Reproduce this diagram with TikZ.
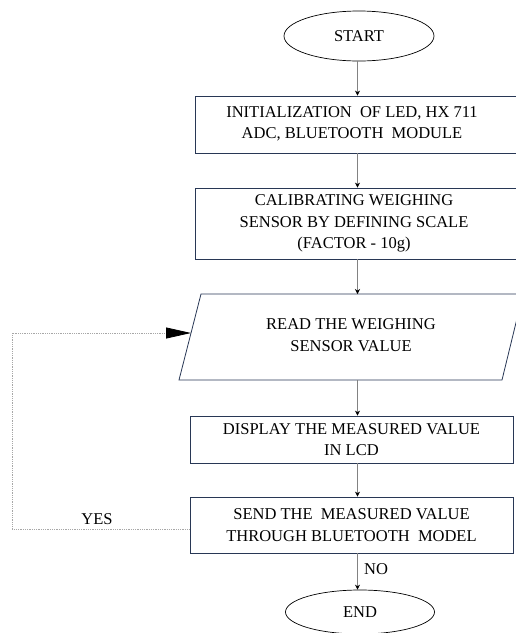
\documentclass[tikz,border=0pt]{standalone}
\usepackage{fontspec}
\setmainfont{Liberation Serif}
\usetikzlibrary{arrows.meta,shapes.geometric}
\definecolor{navy}{RGB}{40,55,85}
\definecolor{connc}{RGB}{130,130,130}
\begin{document}
\begin{tikzpicture}[x=1pt,y=-1pt,
  font=\fontsize{16.5}{21.5}\selectfont,
  box/.style={draw=navy,line width=0.8pt,rectangle,align=center,inner sep=0pt},
  term/.style={draw=black,line width=0.7pt,ellipse,inner sep=0pt},
  conn/.style={draw=connc,line width=0.6pt,-{Stealth[length=5pt,width=5pt,black]}},
  fb/.style={draw=connc!70,line width=0.8pt,densely dotted,-{Triangle[length=25pt,width=11pt,black]}},
  lbl/.style={inner sep=0pt,align=center}]
\useasboundingbox (0,0) rectangle (515,633);
% terminals
\node[term,minimum width=150pt,minimum height=50pt] (start) at (359,36) {START};
\node[term,minimum width=149pt,minimum height=44pt] (endn) at (360,612) {END};
% column of the vertical connectors
\coordinate (col) at (357.5,0);
% process boxes (their right edges run off the picture)
\node[box,minimum width=345pt,minimum height=57pt] (b1) at (367.5,124.5) {};
\node[lbl] (b1t) at (352,124) {INITIALIZATION\ \ OF LED, HX 711\\ADC, BLUETOOTH\ \ MODULE};
\node[box,minimum width=345pt,minimum height=71pt] (b2) at (367.5,223.5) {};
\node[lbl] (b2t) at (354,223.5) {CALIBRATING WEIGHING\\SENSOR BY DEFINING SCALE\\(FACTOR - 10g)};
% input parallelogram
\coordinate (ptl) at (201,294);
\coordinate (ptr) at (523,294);
\coordinate (pbr) at (502,380);
\coordinate (pbl) at (179,380);
\coordinate (ptop) at (357.5,294);
\coordinate (pbot) at (357.5,380);
\coordinate (pleft) at (191,333);
\draw[navy,line width=0.8pt] (ptl) -- (ptr) -- (pbr) -- (pbl) -- cycle;
\node[lbl] (read) at (351,335) {READ THE WEIGHING\\SENSOR VALUE};
\node[box,minimum width=323pt,minimum height=47pt] (disp) at (351.5,439.5)
  {DISPLAY THE MEASURED VALUE\\IN LCD};
\node[box,minimum width=323pt,minimum height=56pt] (send) at (351.5,525)
  {SEND THE\ \ MEASURED VALUE\\THROUGH BLUETOOTH\ \ MODEL};
% connectors
\draw[conn] (start.south -| col) -- (b1.north -| col);
\draw[conn] (b1.south -| col) -- (b2.north -| col);
\draw[conn] (b2.south -| col) -- (ptop);
\draw[conn] (pbot) -- (pbot |- disp.north);
\draw[conn] (disp.south -| pbot) -- (send.north -| pbot);
\draw[conn] (send.south -| pbot) -- (endn.north -| pbot);
\coordinate (fbc) at (12,333);
\draw[fb] ([yshift=-4pt]send.west) -| (fbc) -- (pleft);
% labels
\node[lbl] (yes) at (97,519) {YES};
\node[lbl,anchor=west] (no) at (364,569) {NO};
\end{tikzpicture}
\end{document}
